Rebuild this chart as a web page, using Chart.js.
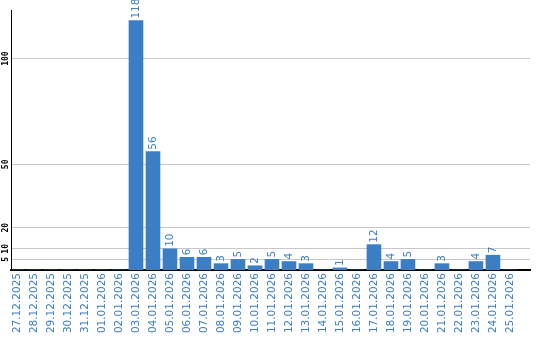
<!DOCTYPE html>
<html>
<head>
<meta charset="utf-8">
<script src="https://cdn.jsdelivr.net/npm/chart.js@4/dist/chart.umd.min.js"></script>
<style>
  html, body { margin: 0; padding: 0; background: #fff; }
  #wrap { width: 540px; height: 340px; }
</style>
</head>
<body>
<div id="wrap"><canvas id="chart" width="540" height="340"></canvas></div>
<script>
// ── Data ─────────────────────────────────────────────────────
const dates = [
  "27.12.2025", "28.12.2025", "29.12.2025", "30.12.2025", "31.12.2025",
  "01.01.2026", "02.01.2026", "03.01.2026", "04.01.2026", "05.01.2026",
  "06.01.2026", "07.01.2026", "08.01.2026", "09.01.2026", "10.01.2026",
  "11.01.2026", "12.01.2026", "13.01.2026", "14.01.2026", "15.01.2026",
  "16.01.2026", "17.01.2026", "18.01.2026", "19.01.2026", "20.01.2026",
  "21.01.2026", "22.01.2026", "23.01.2026", "24.01.2026", "25.01.2026"
];
const counts = [
  0, 0, 0, 0, 0, 0, 0, 118, 56, 10,
  6, 6, 3, 5, 2, 5, 4, 3, 0, 1,
  0, 12, 4, 5, 0, 3, 0, 4, 7, 0
];
const yTicks = [5, 10, 20, 50, 100];

const BLUE = "#3b7ec4";
const LABEL_FONT = "10.5px 'DejaVu Sans'";

// ── Value labels above bars ──────────────────────────────────
const valueLabels = {
  id: "valueLabels",
  afterDatasetsDraw(chart) {
    const ctx = chart.ctx;
    const meta = chart.getDatasetMeta(0);
    ctx.save();
    ctx.font = LABEL_FONT;
    ctx.fillStyle = BLUE;
    ctx.textAlign = "left";
    ctx.textBaseline = "middle";
    meta.data.forEach((bar, i) => {
      const v = counts[i];
      if (!v) return;
      ctx.save();
      ctx.translate(bar.x, bar.y - 2);
      ctx.rotate(-Math.PI / 2);
      ctx.fillText(String(v), 0, 0);
      ctx.restore();
    });
    ctx.restore();
  }
};

// ── Chart ────────────────────────────────────────────────────
new Chart(document.getElementById("chart").getContext("2d"), {
  type: "bar",
  data: {
    datasets: [{
      data: counts.map((v, i) => ({ x: i, y: v })),
      backgroundColor: BLUE,
      borderWidth: 0,
      barThickness: 14
    }]
  },
  options: {
    responsive: false,
    animation: false,
    layout: { padding: { top: 10, right: 10, left: 0, bottom: 0 } },
    plugins: { legend: { display: false }, tooltip: { enabled: false } },
    scales: {
      x: {
        type: "linear",
        offset: false,
        min: -0.353,
        max: 30.18,
        grid: { display: false, drawTicks: false },
        border: { color: "#000", width: 2 },
        afterBuildTicks: s => { s.ticks = dates.map((d, i) => ({ value: i })); },
        afterFit: s => {
          s.height = 70;
          s.paddingLeft = 0;
          s.paddingRight = 0;
        },
        ticks: {
          autoSkip: false,
          minRotation: 90,
          maxRotation: 90,
          padding: 3,
          color: BLUE,
          font: { family: "'DejaVu Sans'", size: 10.5 },
          callback: v => dates[v]
        }
      },
      y: {
        min: 0,
        max: 123,
        grid: { color: "#c8c8c8", lineWidth: 1, drawTicks: false },
        border: { color: "#000", width: 1 },
        afterBuildTicks: s => { s.ticks = yTicks.map(v => ({ value: v })); },
        afterFit: s => { s.width = 11; },
        ticks: {
          minRotation: 90,
          maxRotation: 90,
          crossAlign: "center",
          padding: -2,
          color: "#000",
          font: { family: "'DejaVu Sans Mono'", size: 8, weight: "bold" }
        }
      }
    }
  },
  plugins: [valueLabels]
});
</script>
</body>
</html>
